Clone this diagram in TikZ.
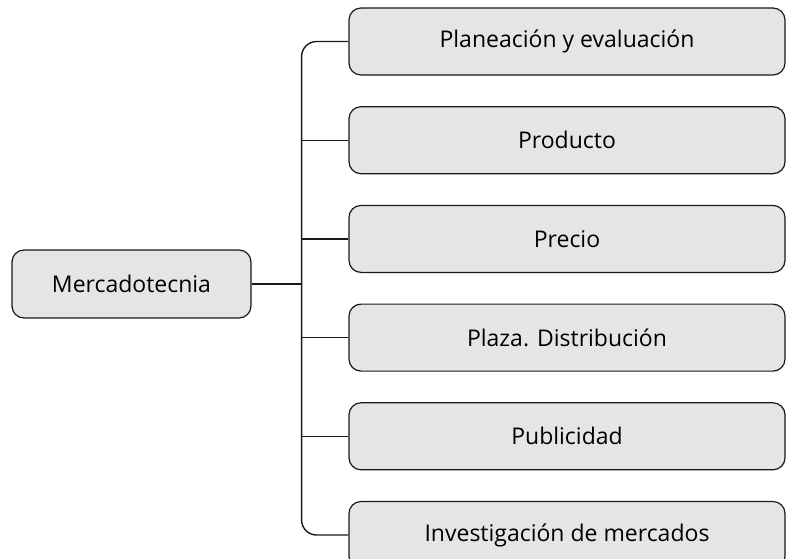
\documentclass[tikz,border=0pt]{standalone}
\usepackage{fontspec}
\setmainfont{Open Sans}
\usetikzlibrary{positioning}

\begin{document}
\begin{tikzpicture}[
    x=1pt, y=1pt,
    node distance=30pt,
    root/.style={
        draw=black!90,
        line width=1.2pt,
        rounded corners=12pt,
        align=center,
        minimum width=239pt,
        minimum height=68pt,
        fill=black!10,
        font=\fontsize{23}{27}\selectfont
    },
    item/.style={
        draw=black!90,
        line width=1.2pt,
        rounded corners=12pt,
        align=center,
        minimum width=436pt,
        minimum height=67pt,
        fill=black!10,
        font=\fontsize{23}{27}\selectfont
    },
    link/.style={
        draw=black!90,
        line width=1.4pt
    }
]
\useasboundingbox (0,0) rectangle (787,-558);

\node[item] (plan) at (567,-41.5) {Planeaci\'on y evaluaci\'on};
\node[item, below=30.5pt of plan] (prod) {Producto};
\node[item, below=30.5pt of prod] (prec) {Precio};
\node[item, below=30.5pt of prec] (plaza) {Plaza. Distribuci\'on};
\node[item, below=30.5pt of plaza] (publ) {Publicidad};
\node[item, below=30.5pt of publ] (inv) {Investigaci\'on de mercados};

\node[root] (merc) at (131.5,-284) {Mercadotecnia};

\draw[link] (merc.east) -- ++(50,0) coordinate (fork);
\draw[link, rounded corners=15pt] (plan.west) -- (plan.west -| fork)
    -- (inv.west -| fork) -- (inv.west);
\draw[link] (prod.west) -- (prod.west -| fork);
\draw[link] (prec.west) -- (prec.west -| fork);
\draw[link] (plaza.west) -- (plaza.west -| fork);
\draw[link] (publ.west) -- (publ.west -| fork);

\end{tikzpicture}
\end{document}
